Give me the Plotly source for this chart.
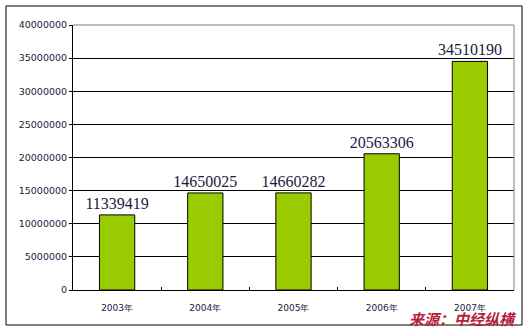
import plotly.graph_objects as go

categories = ["2003年", "2004年", "2005年", "2006年", "2007年"]
values = [11339419, 14650025, 14660282, 20563306, 34510190]
y_ticks = [0, 5000000, 10000000, 15000000, 20000000, 25000000, 30000000, 35000000, 40000000]
source_text = "来源：中经纵横"

fig = go.Figure()
fig.add_trace(go.Bar(
    x=categories, y=values,
    marker=dict(color="#99CC00", line=dict(color="#000000", width=1)),
    width=0.4,
    text=[str(v) for v in values],
    textposition="outside",
    constraintext="none",
    textfont=dict(family="Liberation Serif", size=16, color="#1a1a40"),
    cliponaxis=False,
))

W, H = 527, 330
L, R, T, B = 73, 13, 25, 40
pw, ph = W - L - R, H - T - B

def px_x(p):
    return (p - L) / pw

def px_y(p):
    return (H - B - p) / ph

fig.update_layout(
    width=W, height=H,
    margin=dict(l=L, r=R, t=T, b=B),
    paper_bgcolor="white", plot_bgcolor="white",
    showlegend=False,
    bargap=0.6,
    xaxis=dict(
        type="category",
        showgrid=False,
        showline=True, linecolor="black", linewidth=1,
        ticks="inside", ticklen=3, tickcolor="black", tickson="boundaries",
        tickfont=dict(family="DejaVu Sans", size=9, color="#1a1a40"),
        ticklabelstandoff=9,
    ),
    yaxis=dict(
        range=[0, 40000000],
        tickvals=y_ticks,
        ticktext=[str(v) for v in y_ticks],
        showgrid=True, gridcolor="black", gridwidth=1,
        showline=True, linecolor="black", linewidth=1,
        ticks="outside", ticklen=3, tickcolor="black",
        tickfont=dict(family="DejaVu Sans", size=9.5, color="#1a1a40"),
        zeroline=False,
    ),
    shapes=[
        dict(type="line", xref="paper", yref="paper", x0=0, x1=1, y0=1, y1=1,
             line=dict(color="#808080", width=1), layer="above"),
        dict(type="line", xref="paper", yref="paper", x0=1, x1=1, y0=0, y1=1,
             line=dict(color="#808080", width=1), layer="above"),
        dict(type="rect", xref="paper", yref="paper",
             x0=px_x(6), x1=px_x(522), y0=px_y(325), y1=px_y(6),
             line=dict(color="black", width=1), layer="above"),
    ],
    annotations=[
        dict(text="<b><i>" + source_text + "</i></b>", xref="paper", yref="paper",
             x=px_x(519), y=px_y(318), xanchor="right", yanchor="middle",
             showarrow=False,
             font=dict(family="Noto Sans CJK SC", size=15, color="#B5203A")),
    ],
)

fig.write_html("out.html")
